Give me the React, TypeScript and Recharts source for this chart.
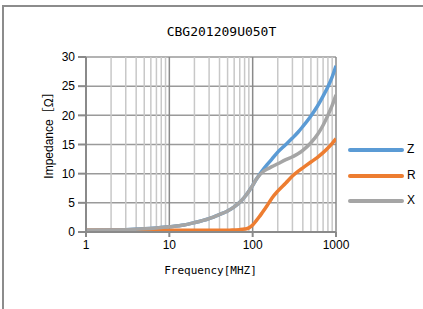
import React from 'react';
import { LineChart, Line, XAxis, YAxis, CartesianGrid, ReferenceLine } from 'recharts';

const frequencies = [1, 2, 3, 5, 7, 10, 15, 20, 30, 40, 50, 60, 70, 80, 90, 100, 110, 120, 130, 150, 170, 200, 250, 300, 350, 400, 500, 600, 700, 800, 900, 1000];
const zValues = [0.3, 0.35, 0.4, 0.55, 0.7, 0.9, 1.2, 1.6, 2.3, 3.0, 3.6, 4.3, 5.1, 6.0, 7.0, 8.0, 9.0, 9.8, 10.5, 11.6, 12.5, 13.7, 15.0, 16.1, 17.1, 18.1, 19.9, 21.6, 23.3, 24.9, 26.6, 28.5];
const rValues = [0.3, 0.3, 0.3, 0.3, 0.3, 0.3, 0.3, 0.3, 0.3, 0.3, 0.3, 0.35, 0.4, 0.5, 0.7, 1.2, 1.9, 2.6, 3.3, 4.6, 5.8, 7.0, 8.4, 9.6, 10.4, 11.0, 12.0, 12.8, 13.6, 14.4, 15.2, 16.0];
const xValues = [0.3, 0.35, 0.4, 0.55, 0.7, 0.9, 1.2, 1.6, 2.3, 3.0, 3.6, 4.3, 5.1, 6.0, 7.0, 8.0, 9.0, 9.7, 10.2, 10.8, 11.2, 11.7, 12.4, 12.9, 13.4, 14.0, 15.3, 16.7, 18.3, 20.0, 21.7, 23.5];

const xTicks = [1, 10, 100, 1000];
const minorTicks = [2, 3, 4, 5, 6, 7, 8, 9, 20, 30, 40, 50, 60, 70, 80, 90, 200, 300, 400, 500, 600, 700, 800, 900];
const yTicks = [0, 5, 10, 15, 20, 25, 30];

const seriesNames = ['Z', 'R', 'X'];
const seriesColors = ['#5B9BD5', '#ED7D31', '#A5A5A5'];
const titleText = 'CBG201209U050T';
const xLabel = 'Frequency[MHZ]';
const yLabel = 'Impedance［Ω］';

const data = frequencies.map((f, i) => ({ f, Z: zValues[i], R: rValues[i], X: xValues[i] }));

export default function App() {
  const tickStyle = { fontFamily: 'Liberation Sans, Arial, sans-serif', fontSize: 12, fill: '#000' };
  return (
    <div style={{ position: 'absolute', left: 0, top: 0, width: 423, height: 309, overflow: 'hidden', background: '#fff' }}>
      <div style={{ position: 'absolute', left: 2, top: 5, width: 440, height: 340, border: '2px solid #8c8c8c', boxSizing: 'border-box' }} />
      <div style={{ position: 'absolute', left: 10, top: 24, width: 423, textAlign: 'center', fontFamily: 'DejaVu Sans Mono, monospace', fontSize: 13, color: '#000' }}>{titleText}</div>
      <div style={{ position: 'absolute', left: -1, top: 264, width: 423, textAlign: 'center', fontFamily: 'DejaVu Sans Mono, monospace', fontSize: 11, color: '#000' }}>{xLabel}</div>
      <div style={{ position: 'absolute', left: 47, top: 132, width: 0, height: 0 }}>
        <div style={{ position: 'absolute', left: -70, top: -8, width: 140, textAlign: 'center', transform: 'rotate(-90deg)', fontFamily: 'Liberation Sans, Arial, "Noto Sans CJK JP", sans-serif', fontSize: 12, color: '#000', whiteSpace: 'nowrap' }}>{yLabel}</div>
      </div>
      <div style={{ position: 'absolute', left: 0, top: 0 }}>
        <LineChart width={423} height={309} data={data} margin={{ top: 57, right: 87, left: 0, bottom: 0 }}>
          <CartesianGrid vertical={false} stroke="#9a9a9a" strokeWidth={1.5} />
          {minorTicks.map((v) => (
            <ReferenceLine key={'m' + v} x={v} stroke="#c8c8c8" strokeWidth={1.5} ifOverflow="hidden" />
          ))}
          {xTicks.map((v) => (
            <ReferenceLine key={'M' + v} x={v} stroke="#8a8a8a" strokeWidth={1.5} />
          ))}
          <XAxis
            dataKey="f"
            type="number"
            scale="log"
            domain={[1, 1000]}
            ticks={xTicks}
            allowDataOverflow
            height={77}
            stroke="#8a8a8a"
            strokeWidth={2}
            tickSize={5}
            tick={tickStyle}
            tickMargin={3}
          />
          <YAxis
            type="number"
            domain={[0, 30]}
            ticks={yTicks}
            width={86}
            stroke="#8a8a8a"
            strokeWidth={2}
            tickSize={8}
            tickMargin={3}
            tick={tickStyle}
            interval={0}
          />
          {seriesNames.map((s, i) => (
            <Line key={s} dataKey={s} type="monotone" stroke={seriesColors[i]} strokeWidth={3.5} dot={false} isAnimationActive={false} />
          ))}
        </LineChart>
      </div>
      {seriesNames.map((s, i) => (
        <div key={s} style={{ position: 'absolute', left: 348, top: 148 + i * 25.7, width: 56, height: 4, borderRadius: 2, background: seriesColors[i] }} />
      ))}
      {seriesNames.map((s, i) => (
        <div key={'t' + s} style={{ position: 'absolute', left: 407, top: 142 + i * 25.7, fontFamily: 'Liberation Sans, Arial, sans-serif', fontSize: 12, color: '#000' }}>{s}</div>
      ))}
    </div>
  );
}
